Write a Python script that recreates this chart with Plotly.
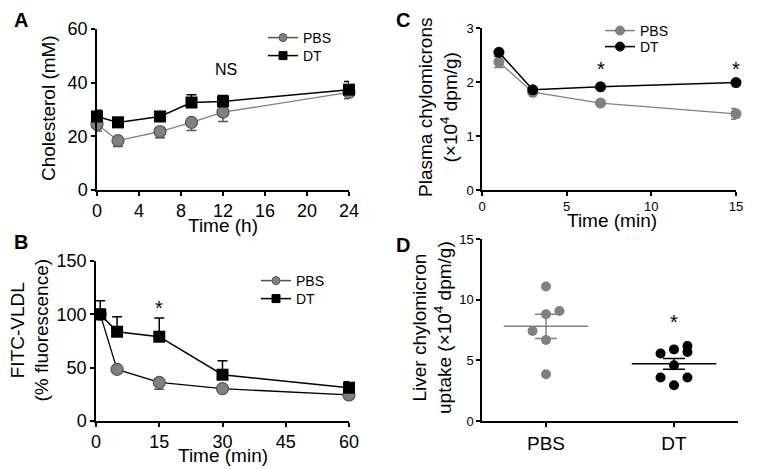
import plotly.graph_objects as go

FONT = "Liberation Sans, Arial, sans-serif"

# Panel A: cholesterol
a_time = [0, 2, 6, 9, 12, 24]
a_pbs = [24.5, 18.4, 21.8, 25.2, 29.0, 36.4]
a_pbs_err = [2.5, 2.2, 2.3, 3.0, 3.5, 2.4]
a_dt = [27.4, 25.2, 27.4, 32.6, 33.0, 37.4]
a_dt_err = [2.3, 1.8, 0.8, 2.9, 2.2, 3.0]

# Panel B: FITC-VLDL
b_time = [1, 5, 15, 30, 60]
b_pbs = [100, 48.4, 36.2, 30.3, 24.4]
b_pbs_err = [0, 1.5, 6.5, 2.5, 2.5]
b_dt = [100, 83.7, 79.0, 43.4, 31.2]
b_dt_err = [12.8, 14.1, 17.6, 13.2, 5.7]

# Panel C: plasma chylomicrons
c_time = [1, 3, 7, 15]
c_pbs = [2.37, 1.81, 1.61, 1.41]
c_pbs_err = [0.1, 0.03, 0.03, 0.1]
c_dt = [2.55, 1.855, 1.91, 1.99]
c_dt_err = [0.03, 0.02, 0.02, 0.02]

# Panel D: liver chylomicron uptake
d_groups = ["PBS", "DT"]
d_pbs = [11.08, 9.07, 8.8, 7.42, 6.67, 3.86]
d_pbs_off = [0, 1, 0, -1, 0, 0]
d_dt = [5.57, 5.9, 6.18, 5.68, 4.6, 3.58, 3.58, 2.95]
d_dt_off = [-1, 0, 1, 1, 0, -1, 1, 0]
d_pbs_mean, d_pbs_sem = 7.8, 1.0
d_dt_mean, d_dt_sem = 4.71, 0.44

GRAY = "#808080"
GRAY_D = "#555555"
BLACK = "#000000"

fig = go.Figure()

def errs(vals, up=True):
    return dict(type="data", array=vals if up else [0]*len(vals),
                arrayminus=[0]*len(vals) if up else vals, thickness=1.5, width=5)

def legend_entry(name, legend, line_col, symbol, mcol, mline, xa, ya, size=8):
    # empty trace that only provides a small legend symbol
    fig.add_trace(go.Scatter(x=[None], y=[None], mode="lines+markers", name=name,
        line=dict(color=line_col, width=1.5),
        marker=dict(symbol=symbol, size=size, color=mcol, line=dict(color=mline, width=1)),
        xaxis=xa, yaxis=ya, legend=legend, hoverinfo="skip"))

# A
fig.add_trace(go.Scatter(x=a_time, y=a_pbs, mode="lines+markers", name="PBS",
    line=dict(color=GRAY, width=1.3),
    marker=dict(symbol="circle", size=12, color=GRAY, line=dict(color=GRAY_D, width=1.2)),
    error_y=dict(errs(a_pbs_err, up=False), color=GRAY_D), showlegend=False,
    xaxis="x", yaxis="y", cliponaxis=False))
fig.add_trace(go.Scatter(x=a_time, y=a_dt, mode="lines+markers", name="DT",
    line=dict(color=BLACK, width=1.5),
    marker=dict(symbol="square", size=12, color=BLACK),
    error_y=dict(errs(a_dt_err, up=True), color=BLACK), showlegend=False,
    xaxis="x", yaxis="y", cliponaxis=False))
legend_entry("PBS", "legend", GRAY_D, "circle", GRAY, GRAY_D, "x", "y")
legend_entry("DT", "legend4", BLACK, "square", BLACK, BLACK, "x", "y")

# B
fig.add_trace(go.Scatter(x=b_time, y=b_pbs, mode="lines+markers", name="PBS",
    line=dict(color=BLACK, width=1.3),
    marker=dict(symbol="circle", size=12, color=GRAY, line=dict(color=GRAY_D, width=1.2)),
    error_y=dict(errs(b_pbs_err, up=False), color=GRAY_D), showlegend=False,
    xaxis="x2", yaxis="y2", cliponaxis=False))
fig.add_trace(go.Scatter(x=b_time, y=b_dt, mode="lines+markers", name="DT",
    line=dict(color=BLACK, width=1.5),
    marker=dict(symbol="square", size=12, color=BLACK),
    error_y=dict(errs(b_dt_err, up=True), color=BLACK), showlegend=False,
    xaxis="x2", yaxis="y2", cliponaxis=False))
legend_entry("PBS", "legend2", GRAY_D, "circle", GRAY, GRAY_D, "x2", "y2")
legend_entry("DT", "legend5", BLACK, "square", BLACK, BLACK, "x2", "y2")

# C
fig.add_trace(go.Scatter(x=c_time, y=c_pbs, mode="lines+markers", name="PBS",
    line=dict(color=GRAY, width=1.3),
    marker=dict(symbol="circle", size=11, color=GRAY),
    error_y=dict(type="data", array=c_pbs_err, thickness=1.5, width=5, color=GRAY), showlegend=False,
    xaxis="x3", yaxis="y3", cliponaxis=False))
fig.add_trace(go.Scatter(x=c_time, y=c_dt, mode="lines+markers", name="DT",
    line=dict(color=BLACK, width=1.5),
    marker=dict(symbol="circle", size=11, color=BLACK),
    error_y=dict(type="data", array=c_dt_err, thickness=1.5, width=5, color=BLACK), showlegend=False,
    xaxis="x3", yaxis="y3", cliponaxis=False))
legend_entry("PBS", "legend3", GRAY, "circle", GRAY, GRAY, "x3", "y3", size=9)
legend_entry("DT", "legend6", BLACK, "circle", BLACK, BLACK, "x3", "y3", size=9)

# D
J = 0.105
fig.add_trace(go.Scatter(x=[0 + o*J for o in d_pbs_off], y=d_pbs, mode="markers",
    marker=dict(size=10, color=GRAY), showlegend=False, xaxis="x4", yaxis="y4", cliponaxis=False))
fig.add_trace(go.Scatter(x=[1 + o*J for o in d_dt_off], y=d_dt, mode="markers",
    marker=dict(size=10, color=BLACK), showlegend=False, xaxis="x4", yaxis="y4", cliponaxis=False))
for gi, (m, s, col) in enumerate([(d_pbs_mean, d_pbs_sem, GRAY), (d_dt_mean, d_dt_sem, BLACK)]):
    fig.add_trace(go.Scatter(x=[gi - 0.33, gi + 0.33], y=[m, m], mode="lines",
        line=dict(color=col, width=1.5), showlegend=False, xaxis="x4", yaxis="y4", hoverinfo="skip"))
    fig.add_trace(go.Scatter(x=[gi], y=[m], mode="markers", marker=dict(size=1, color="rgba(0,0,0,0)"),
        error_y=dict(type="data", array=[s], thickness=1.5, width=11, color=col),
        showlegend=False, xaxis="x4", yaxis="y4"))

# page has an 8px body margin: the figure starts at page (8, 8)
OFF = 8
W, H = 766 - OFF, 469 - OFF
def px(p): return (p - OFF) / W
def py(p): return 1 - (p - OFF) / H
def dx(a, b): return [px(a), px(b)]
def dy(top, bot): return [py(bot), py(top)]

axis_common = dict(showline=True, linecolor="black", linewidth=1.5, ticks="outside",
                   ticklen=4, tickwidth=1.5, tickcolor="black", showgrid=False, zeroline=False,
                   mirror=False, automargin=False)
big = dict(family=FONT, size=18, color="black")
small = dict(family=FONT, size=13, color="black")
TS = 19
title_font = dict(family=FONT, size=TS, color="black")
leg_font = dict(family=FONT, size=14, color="black")

def leg(xp, yp):
    return dict(x=px(xp), y=py(yp), xanchor="left", yanchor="middle", bgcolor="rgba(0,0,0,0)",
                font=leg_font, tracegroupgap=0, itemwidth=30, borderwidth=0)

fig.update_layout(
    width=W, height=H, margin=dict(l=0, r=0, t=0, b=0, autoexpand=False),
    plot_bgcolor="white", paper_bgcolor="white",
    font=dict(family=FONT, color="black"),
    xaxis=dict(axis_common, domain=dx(97, 349), range=[0, 24], tickvals=[0, 4, 8, 12, 16, 20, 24],
               anchor="y", tickfont=big),
    yaxis=dict(axis_common, domain=dy(29, 190), range=[0, 60], tickvals=[0, 20, 40, 60],
               anchor="x", tickfont=big),
    xaxis2=dict(axis_common, domain=dx(96, 349), range=[0, 60], tickvals=[0, 15, 30, 45, 60],
                anchor="y2", tickfont=big),
    yaxis2=dict(axis_common, domain=dy(261, 421), range=[0, 150], tickvals=[0, 50, 100, 150],
                anchor="x2", tickfont=big),
    xaxis3=dict(axis_common, domain=dx(482, 736), range=[0, 15], tickvals=[0, 5, 10, 15],
                anchor="y3", tickfont=small),
    yaxis3=dict(axis_common, domain=dy(28, 190), range=[0, 3], tickvals=[0, 1, 2, 3],
                anchor="x3", tickfont=small),
    xaxis4=dict(axis_common, domain=dx(482, 738), range=[-0.5, 1.5], tickvals=[0, 1],
                ticktext=d_groups, anchor="y4", tickfont=title_font),
    yaxis4=dict(axis_common, domain=dy(239, 421), range=[0, 15], tickvals=[0, 5, 10, 15],
                anchor="x4", tickfont=small),
    legend=leg(263, 38), legend4=leg(263, 56),
    legend2=leg(256, 281), legend5=leg(256, 299),
    legend3=leg(600, 31), legend6=leg(600, 47),
)

ann = []
def paper_text(text, x, y, size=TS, angle=0, bold=False):
    ann.append(dict(text=f"<b>{text}</b>" if bold else text, x=px(x), y=py(y),
                    xref="paper", yref="paper", xanchor="center", yanchor="middle",
                    showarrow=False, textangle=angle,
                    font=dict(family=FONT, size=size, color="black")))

# panel letters
for txt, x, y in [("A", 20.5, 20), ("B", 20.5, 242.5), ("C", 403, 20.5), ("D", 403, 245.5)]:
    paper_text(txt, x, y, size=20, bold=True)

# axis titles
paper_text("Cholesterol (mM)", 48, 108, angle=-90)
paper_text("Time (h)", 223, 225)
paper_text("FITC-VLDL<br>(% fluorescence)", 29.5, 330, angle=-90)
paper_text("Time (min)", 223, 455)
paper_text("Plasma chylomicrons<br>(×10<sup>4</sup> dpm/g)", 438, 107, angle=-90)
paper_text("Time (min)", 612, 220)
paper_text("Liver chylomicron<br>uptake (×10<sup>4</sup> dpm/g)", 432, 328, angle=-90)

ann.append(dict(text="NS", x=12.3, y=45, xref="x", yref="y", showarrow=False, font=dict(family=FONT, size=16)))
ann.append(dict(text="*", x=15, y=106, xref="x2", yref="y2", showarrow=False, font=dict(family=FONT, size=20)))
ann.append(dict(text="*", x=7, y=2.25, xref="x3", yref="y3", showarrow=False, font=dict(family=FONT, size=20)))
ann.append(dict(text="*", x=15, y=2.25, xref="x3", yref="y3", showarrow=False, font=dict(family=FONT, size=20)))
ann.append(dict(text="*", x=1, y=8.2, xref="x4", yref="y4", showarrow=False, font=dict(family=FONT, size=20)))
fig.update_layout(annotations=ann)

fig.write_html("out.html")
